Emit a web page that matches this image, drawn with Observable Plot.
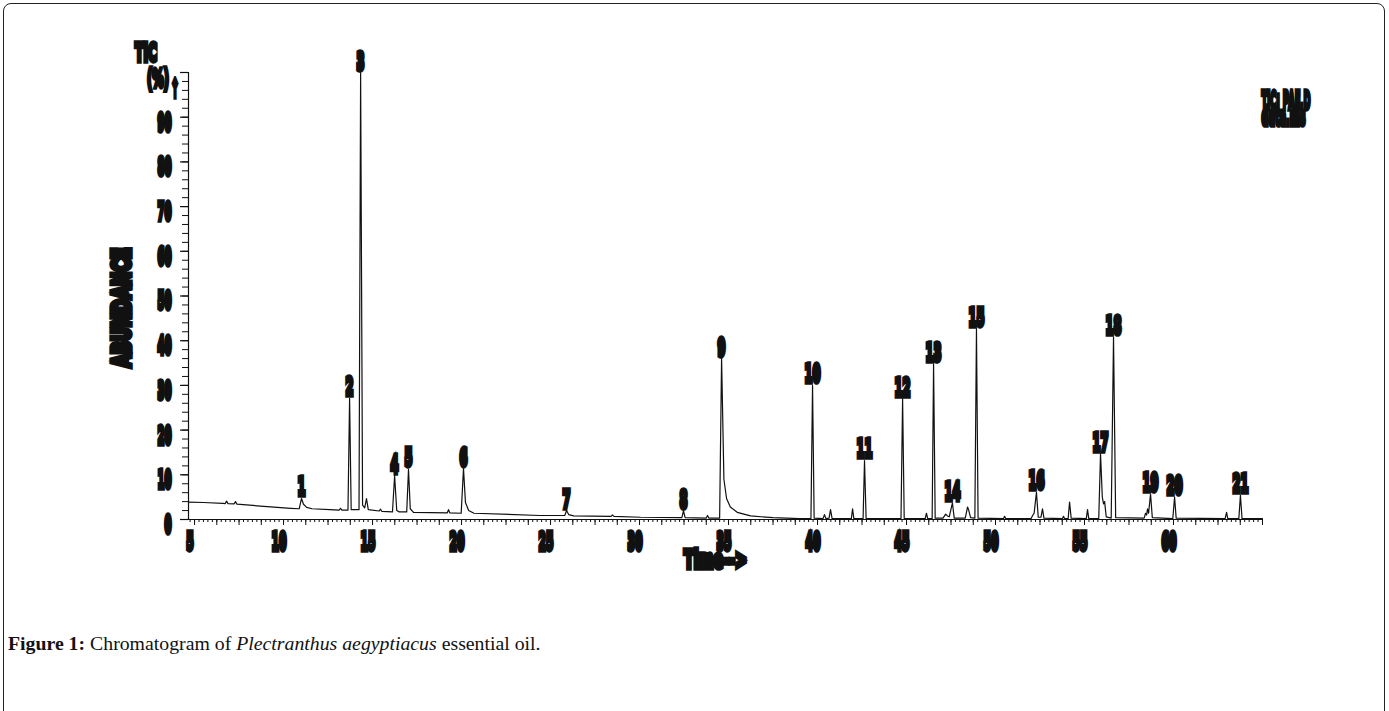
<!DOCTYPE html>
<html><head><meta charset="utf-8">
<script src="https://cdn.jsdelivr.net/npm/d3@7"></script>
<script src="https://cdn.jsdelivr.net/npm/@observablehq/plot@0.6"></script>
<style>
html,body{margin:0;padding:0;background:#fff;}
body{width:1389px;height:711px;overflow:hidden;position:relative;}
#frame{position:absolute;left:3px;top:3px;width:1382px;height:760px;border:1px solid #222;border-radius:8px;box-sizing:border-box;}
#chart{position:absolute;left:0;top:0;}
#caption{position:absolute;left:8px;top:632px;font-family:"Liberation Serif",serif;font-size:19.8px;color:#111;white-space:nowrap;}
</style></head><body>
<div id="frame"></div>
<div id="chart"></div>
<div id="caption"><b>Figure 1:</b> Chromatogram of <i>Plectranthus aegyptiacus</i> essential oil.</div>
<script>
// ---- data ----
const traceTime = [4.66,5.50,6.60,6.72,6.80,6.88,7.22,7.30,7.38,8.70,10.40,10.88,11.01,11.12,11.30,11.60,12.60,13.12,13.20,13.28,13.62,13.71,13.80,14.24,14.33,14.44,14.56,14.66,14.76,15.37,15.45,15.53,16.12,16.24,16.36,16.50,16.92,17.02,17.12,17.30,19.20,19.27,19.34,19.98,20.11,20.22,20.40,20.70,24.40,25.80,25.90,26.02,26.30,28.40,28.48,28.56,30.06,32.38,32.47,32.56,33.74,33.82,33.90,34.50,34.61,34.74,34.89,35.10,35.49,36.24,37.50,39.00,39.63,39.72,39.81,40.31,40.39,40.47,40.65,40.73,40.82,41.90,41.97,42.04,42.56,42.64,42.73,44.69,44.78,44.87,46.05,46.12,46.19,46.44,46.52,46.61,47.05,47.20,47.30,47.40,47.58,47.68,48.30,48.43,48.50,48.60,48.84,48.93,49.02,50.45,50.51,50.57,52.00,52.10,52.17,52.30,52.40,52.55,52.64,52.72,53.76,53.82,53.88,54.08,54.16,54.25,55.10,55.17,55.24,55.80,55.90,56.00,56.07,56.13,56.22,56.50,56.63,56.75,58.35,58.43,58.49,58.54,58.60,58.71,58.81,59.96,60.06,60.15,62.90,62.98,63.05,63.67,63.76,63.85,65.00];
const traceSignal = [0.39,0.38,0.36,0.355,0.41,0.355,0.35,0.40,0.345,0.30,0.25,0.24,0.47,0.34,0.27,0.24,0.22,0.21,0.25,0.21,0.21,2.71,0.22,0.22,10.0,0.32,0.26,0.47,0.22,0.19,0.23,0.18,0.17,0.98,0.20,0.17,0.17,1.12,0.24,0.16,0.15,0.22,0.15,0.14,1.14,0.38,0.20,0.14,0.09,0.09,0.20,0.11,0.08,0.07,0.10,0.07,0.05,0.04,0.20,0.04,0.03,0.09,0.03,0.03,3.60,0.90,0.47,0.28,0.16,0.08,0.04,0.02,0.02,3.00,0.03,0.02,0.11,0.02,0.03,0.22,0.02,0.02,0.24,0.02,0.02,1.32,0.02,0.02,2.70,0.02,0.02,0.14,0.02,0.02,3.48,0.03,0.03,0.12,0.08,0.06,0.37,0.03,0.03,0.28,0.20,0.04,0.03,4.27,0.03,0.02,0.07,0.02,0.02,0.10,0.14,0.61,0.05,0.05,0.24,0.03,0.02,0.07,0.02,0.02,0.39,0.03,0.02,0.22,0.02,0.02,1.47,0.50,0.35,0.40,0.06,0.03,4.08,0.04,0.03,0.14,0.10,0.24,0.14,0.57,0.04,0.02,0.50,0.03,0.02,0.16,0.02,0.02,0.54,0.02,0.02];

const peakLabels = ["1","2","3","4","5","6","7","8","9","10","11","12","13","14","15","16","17","18","19","20","21"];
const peakTime   = [11.01,13.71,14.33,16.24,17.02,20.11,25.90,32.47,34.61,39.72,42.64,44.78,46.52,47.58,48.93,52.30,55.90,56.63,58.71,60.06,63.76];
const peakHeight = [0.47,2.71,10.0,0.98,1.12,1.14,0.20,0.20,3.60,3.00,1.32,2.70,3.48,0.37,4.27,0.61,1.47,4.08,0.57,0.50,0.54];

const yTickValues = [0,1,2,3,4,5,6,7,8,9];
const yTickLabels = ["0","10","20","30","40","50","60","70","80","90"];
const xTickValues = [5,10,15,20,25,30,35,40,45,50,55,60];
const xTickLabels = ["5","10","15","20","25","30","35","40","45","50","55","60"];
const xTitle = "Time-->";
const yTitle = "ABUNDANCE";
const cornerTexts = ["TIC", "(%)", "↑"];
const fileTexts = ["TIC: PAE.D", "data.ms"];

const xDomain = [4.66, 65];
const yDomain = [0, 10];

// ---- build ----
const trace = traceTime.map((t, i) => ({t, v: traceSignal[i]}));
const peaks = peakTime.map((t, i) => ({t, v: peakHeight[i], label: peakLabels[i]}));

const xMedium = d3.range(5, 65.001, 1.25);
const xMinor = d3.range(4.75, 65.001, 0.25);
const yMajor = d3.range(0, 10.001, 1);
const yMinor = d3.range(0, 10.001, 0.2);

const glyph = {fontFamily: "DejaVu Sans", fontWeight: "bold", fontSize: 25, fill: "#111", stroke: "#111", strokeWidth: 5.5, strokeLinejoin: "miter", lineAnchor: "middle"};
const tag = name => ({ariaLabel: () => name});

const chart = Plot.plot({
  width: 1389, height: 600,
  marginLeft: 188, marginRight: 127, marginTop: 72, marginBottom: 81,
  style: {background: "transparent", color: "#111"},
  x: {domain: xDomain},
  y: {domain: yDomain},
  marks: [
    Plot.axisX(xMinor, {tickSize: 3, tickFormat: () => "", label: null, strokeWidth: 1}),
    Plot.axisX(xMedium, {tickSize: 6, tickFormat: () => "", label: null, strokeWidth: 1}),
    Plot.axisY(yMinor, {tickSize: 6, tickFormat: () => "", label: null, strokeWidth: 1}),
    Plot.axisY(yMajor, {tickSize: 8, tickFormat: () => "", label: null, strokeWidth: 1.2}),
    Plot.ruleY([0], {stroke: "#111", strokeWidth: 1.2}),
    Plot.ruleX([xDomain[0]], {stroke: "#111", strokeWidth: 1.2}),
    Plot.line(trace, {x: "t", y: "v", stroke: "#111", strokeWidth: 1.2, curve: "linear"}),
    Plot.text(peaks, {x: "t", y: "v", text: "label", ...glyph, dy: -11, ...tag("sq-peak")}),
    Plot.text(yTickValues, {y: d => d, text: (d, i) => yTickLabels[i], frameAnchor: "left", textAnchor: "end", dx: -17, dy: 5.4, ...glyph, ...tag("sq-y")}),
    Plot.text(xTickValues, {x: d => d, text: (d, i) => xTickLabels[i], frameAnchor: "bottom", textAnchor: "middle", dx: -4.5, dy: 22, ...glyph, ...tag("sq-x")}),
    Plot.text([xTitle], {frameAnchor: "bottom", textAnchor: "middle", dx: -10, dy: 40, ...glyph, ...tag("sq-xtitle")}),
    Plot.text([yTitle], {frameAnchor: "left", textAnchor: "middle", rotate: -90, dx: -66.5, dy: 11.5, ...glyph, ...tag("sq-ytitle")}),
    Plot.text([cornerTexts[0]], {frameAnchor: "top-left", textAnchor: "middle", dx: -42.5, dy: -20, ...glyph, ...tag("sq-c0")}),
    Plot.text([cornerTexts[1]], {frameAnchor: "top-left", textAnchor: "middle", dx: -30.5, dy: 6, ...glyph, ...tag("sq-c1")}),
    Plot.text([cornerTexts[2]], {frameAnchor: "top-left", textAnchor: "middle", dx: -13.5, dy: 16, ...glyph, ...tag("sq-c2")}),
    Plot.text([fileTexts[0]], {frameAnchor: "top-right", textAnchor: "start", dx: -1, dy: 28, ...glyph, ...tag("sq-f0")}),
    Plot.text([fileTexts[1]], {frameAnchor: "top-right", textAnchor: "start", dx: -1, dy: 44, ...glyph, ...tag("sq-f1")})
  ]
});

// squeeze the label glyphs into the narrow tall blocks seen in the reference
function squeeze(name, widthFn) {
  chart.querySelectorAll(`[aria-label="${name}"]`).forEach(el => {
    const texts = el.tagName.toLowerCase() === "text" ? [el] : Array.from(el.querySelectorAll("text"));
    texts.forEach(t => {
      t.setAttribute("textLength", widthFn(t.textContent));
      t.setAttribute("lengthAdjust", "spacingAndGlyphs");
    });
  });
}
squeeze("sq-peak", s => 8 * s.length);
squeeze("sq-y", s => 7 * s.length);
squeeze("sq-x", s => 7.5 * s.length);
squeeze("sq-xtitle", () => 63);
squeeze("sq-ytitle", () => 120);
squeeze("sq-c0", () => 22);
squeeze("sq-c1", () => 22);
squeeze("sq-c2", () => 8);
squeeze("sq-f0", () => 49);
squeeze("sq-f1", () => 44);

document.getElementById("chart").appendChild(chart);
</script>
</body></html>
